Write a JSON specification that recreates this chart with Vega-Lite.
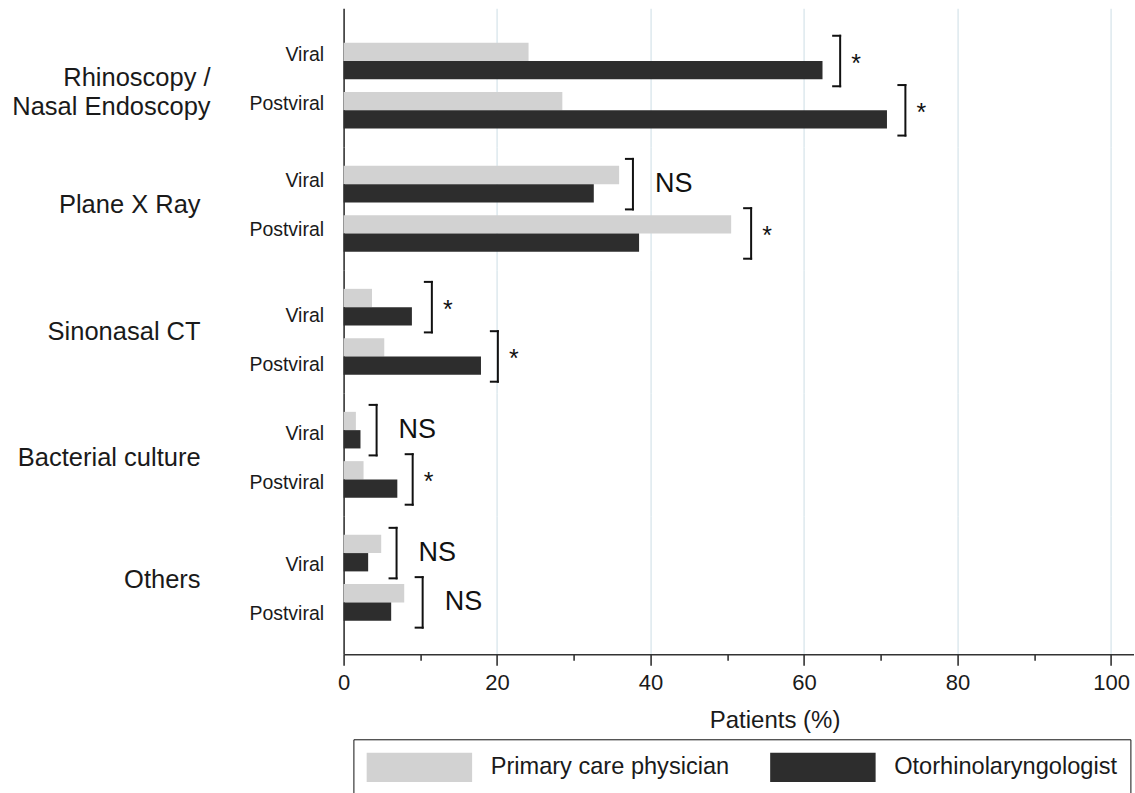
{
  "$schema": "https://vega.github.io/schema/vega-lite/v6.json",
  "background": "white",
  "padding": {"left": 11.6, "top": 8.3, "right": 0, "bottom": 0},
  "autosize": {"type": "pad"},
  "spacing": 0,
  "bounds": "flush",
  "config": {
    "view": {"stroke": null},
    "font": "Liberation Sans",
    "axis": {"labelLimit": 400, "titleLimit": 1000}
  },
  "resolve": {"scale": {"x": "independent", "y": "independent", "yOffset": "independent", "color": "shared"}},
  "datasets": {
    "bars": [
      {"group": "Rhinoscopy", "sub": "Viral", "role": "Primary care physician", "pct": 24.1},
      {"group": "Rhinoscopy", "sub": "Viral", "role": "Otorhinolaryngologist", "pct": 62.4},
      {"group": "Rhinoscopy", "sub": "Postviral", "role": "Primary care physician", "pct": 28.5},
      {"group": "Rhinoscopy", "sub": "Postviral", "role": "Otorhinolaryngologist", "pct": 70.8},
      {"group": "Plane X Ray", "sub": "Viral", "role": "Primary care physician", "pct": 35.9},
      {"group": "Plane X Ray", "sub": "Viral", "role": "Otorhinolaryngologist", "pct": 32.6},
      {"group": "Plane X Ray", "sub": "Postviral", "role": "Primary care physician", "pct": 50.5},
      {"group": "Plane X Ray", "sub": "Postviral", "role": "Otorhinolaryngologist", "pct": 38.5},
      {"group": "Sinonasal CT", "sub": "Viral", "role": "Primary care physician", "pct": 3.7},
      {"group": "Sinonasal CT", "sub": "Viral", "role": "Otorhinolaryngologist", "pct": 8.9},
      {"group": "Sinonasal CT", "sub": "Postviral", "role": "Primary care physician", "pct": 5.3},
      {"group": "Sinonasal CT", "sub": "Postviral", "role": "Otorhinolaryngologist", "pct": 17.9},
      {"group": "Bacterial culture", "sub": "Viral", "role": "Primary care physician", "pct": 1.6},
      {"group": "Bacterial culture", "sub": "Viral", "role": "Otorhinolaryngologist", "pct": 2.2},
      {"group": "Bacterial culture", "sub": "Postviral", "role": "Primary care physician", "pct": 2.6},
      {"group": "Bacterial culture", "sub": "Postviral", "role": "Otorhinolaryngologist", "pct": 7.0},
      {"group": "Others", "sub": "Viral", "role": "Primary care physician", "pct": 4.9},
      {"group": "Others", "sub": "Viral", "role": "Otorhinolaryngologist", "pct": 3.2},
      {"group": "Others", "sub": "Postviral", "role": "Primary care physician", "pct": 7.9},
      {"group": "Others", "sub": "Postviral", "role": "Otorhinolaryngologist", "pct": 6.2}
    ],
    "brackets": [
      {"group": "Rhinoscopy", "sub": "Viral", "bx": 64.7, "label": "*"},
      {"group": "Rhinoscopy", "sub": "Postviral", "bx": 73.2, "label": "*"},
      {"group": "Plane X Ray", "sub": "Viral", "bx": 37.7, "label": "NS"},
      {"group": "Plane X Ray", "sub": "Postviral", "bx": 53.1, "label": "*"},
      {"group": "Sinonasal CT", "sub": "Viral", "bx": 11.5, "label": "*"},
      {"group": "Sinonasal CT", "sub": "Postviral", "bx": 20.1, "label": "*"},
      {"group": "Bacterial culture", "sub": "Viral", "bx": 4.3, "label": "NS"},
      {"group": "Bacterial culture", "sub": "Postviral", "bx": 9.0, "label": "*"},
      {"group": "Others", "sub": "Viral", "bx": 6.9, "label": "NS"},
      {"group": "Others", "sub": "Postviral", "bx": 10.3, "label": "NS"}
    ]
  },
  "vconcat": [
    {
      "width": 790.5, "height": 139,
      "layer": [
        {"data": {"name": "bars"}, "transform": [{"filter": "datum.group === 'Rhinoscopy'"}],
         "mark": {"type": "bar"},
         "encoding": {
           "y": {"field": "sub", "type": "nominal", "sort": ["Viral", "Postviral"], "title": ["Rhinoscopy /", "Nasal Endoscopy"],
                 "scale": {"paddingInner": 0.2576, "paddingOuter": 0.5385, "align": 0.648},
                 "axis": {"title": ["Rhinoscopy /", "Nasal Endoscopy"], "titleAngle": 0, "titleAlign": "right", "titleBaseline": "middle", "titleX": -133.5, "titleY": 68.7, "titleFontSize": 25.5, "titleFontWeight": "normal", "titleColor": "#1a1a1a", "titleLineHeight": 29.3, "ticks": false, "domainColor": "#333333", "domainWidth": 1.6, "labelFontSize": 19.5, "labelColor": "#1a1a1a", "labelPadding": 20, "labelOffset": -6.5, "grid": false}},
           "yOffset": {"field": "role", "type": "nominal", "sort": ["Primary care physician", "Otorhinolaryngologist"], "scale": {"paddingInner": 0, "paddingOuter": 0}},
           "x": {"field": "pct", "type": "quantitative", "title": null, "scale": {"domain": [0, 103], "nice": false},
                 "axis": {"values": [20, 40, 60, 80, 100], "grid": true, "gridColor": "#dde9ee", "gridWidth": 1.5, "labels": false, "ticks": false, "domain": false, "title": null}},
           "color": {"field": "role", "type": "nominal", "scale": {"domain": ["Primary care physician", "Otorhinolaryngologist"], "range": ["#d2d2d2", "#2d2d2d"]},
                     "legend": {"orient": "none", "legendX": 9.8, "legendY": 731, "direction": "horizontal", "title": null, "symbolType": "M-3.6,-1H3.6V1H-3.6Z", "symbolSize": 858, "symbolStrokeWidth": 0, "symbolOpacity": 1, "symbolOffset": 38, "labelFontSize": 23.6, "labelColor": "#1a1a1a", "labelOffset": 56.3, "labelLimit": 500, "columnPadding": 40.5, "padding": 13, "strokeColor": "#111111"}}
         }},
        {"data": {"name": "brackets"}, "transform": [{"filter": "datum.group === 'Rhinoscopy'"}],
         "mark": {"type": "rule", "strokeWidth": 2, "color": "#111111", "strokeCap": "square"},
         "encoding": {"x": {"field": "bx", "type": "quantitative", "title": null}, "y": {"field": "sub", "type": "nominal", "sort": ["Viral", "Postviral"], "title": ["Rhinoscopy /", "Nasal Endoscopy"], "bandPosition": -0.19}, "y2": {"field": "sub", "bandPosition": 1.19}}},
        {"data": {"name": "brackets"}, "transform": [{"filter": "datum.group === 'Rhinoscopy'"}],
         "mark": {"type": "rule", "strokeWidth": 2, "color": "#111111", "strokeCap": "square", "x2Offset": -7},
         "encoding": {"x": {"field": "bx", "type": "quantitative", "title": null}, "x2": {"field": "bx"}, "y": {"field": "sub", "type": "nominal", "sort": ["Viral", "Postviral"], "title": ["Rhinoscopy /", "Nasal Endoscopy"], "bandPosition": -0.19}}},
        {"data": {"name": "brackets"}, "transform": [{"filter": "datum.group === 'Rhinoscopy'"}],
         "mark": {"type": "rule", "strokeWidth": 2, "color": "#111111", "strokeCap": "square", "x2Offset": -7},
         "encoding": {"x": {"field": "bx", "type": "quantitative", "title": null}, "x2": {"field": "bx"}, "y": {"field": "sub", "type": "nominal", "sort": ["Viral", "Postviral"], "title": ["Rhinoscopy /", "Nasal Endoscopy"], "bandPosition": 1.19}}},
        {"data": {"name": "brackets"}, "transform": [{"filter": "datum.group === 'Rhinoscopy' && datum.label === '*'"}],
         "mark": {"type": "text", "align": "center", "baseline": "middle", "dx": 16, "dy": 3, "fontSize": 25, "color": "#111111"},
         "encoding": {"x": {"field": "bx", "type": "quantitative", "title": null}, "y": {"field": "sub", "type": "nominal", "sort": ["Viral", "Postviral"], "title": ["Rhinoscopy /", "Nasal Endoscopy"], "bandPosition": 0.5}, "text": {"field": "label"}}},
        {"data": {"name": "brackets"}, "transform": [{"filter": "datum.group === 'Rhinoscopy' && datum.label === 'NS'"}],
         "mark": {"type": "text", "align": "left", "baseline": "middle", "dx": 22, "fontSize": 27, "color": "#111111"},
         "encoding": {"x": {"field": "bx", "type": "quantitative", "title": null}, "y": {"field": "sub", "type": "nominal", "sort": ["Viral", "Postviral"], "title": ["Rhinoscopy /", "Nasal Endoscopy"], "bandPosition": 0.5}, "text": {"field": "label"}}}
      ]
    },
    {
      "width": 790.5, "height": 123,
      "layer": [
        {"data": {"name": "bars"}, "transform": [{"filter": "datum.group === 'Plane X Ray'"}],
         "mark": {"type": "bar"},
         "encoding": {
           "y": {"field": "sub", "type": "nominal", "sort": ["Viral", "Postviral"], "title": "Plane X Ray",
                 "scale": {"paddingInner": 0.2576, "paddingOuter": 0.3763, "align": 0.5},
                 "axis": {"title": "Plane X Ray", "titleAngle": 0, "titleAlign": "right", "titleBaseline": "middle", "titleX": -143.5, "titleY": 57.7, "titleFontSize": 25.5, "titleFontWeight": "normal", "titleColor": "#1a1a1a", "ticks": false, "domainColor": "#333333", "domainWidth": 1.6, "labelFontSize": 19.5, "labelColor": "#1a1a1a", "labelPadding": 20, "labelOffset": -3, "grid": false}},
           "yOffset": {"field": "role", "type": "nominal", "sort": ["Primary care physician", "Otorhinolaryngologist"], "scale": {"paddingInner": 0, "paddingOuter": 0}},
           "x": {"field": "pct", "type": "quantitative", "title": null, "scale": {"domain": [0, 103], "nice": false},
                 "axis": {"values": [20, 40, 60, 80, 100], "grid": true, "gridColor": "#dde9ee", "gridWidth": 1.5, "labels": false, "ticks": false, "domain": false, "title": null}},
           "color": {"field": "role", "type": "nominal", "scale": {"domain": ["Primary care physician", "Otorhinolaryngologist"], "range": ["#d2d2d2", "#2d2d2d"]},
                     "legend": {"orient": "none", "legendX": 9.8, "legendY": 731, "direction": "horizontal", "title": null, "symbolType": "M-3.6,-1H3.6V1H-3.6Z", "symbolSize": 858, "symbolStrokeWidth": 0, "symbolOpacity": 1, "symbolOffset": 38, "labelFontSize": 23.6, "labelColor": "#1a1a1a", "labelOffset": 56.3, "labelLimit": 500, "columnPadding": 40.5, "padding": 13, "strokeColor": "#111111"}}
         }},
        {"data": {"name": "brackets"}, "transform": [{"filter": "datum.group === 'Plane X Ray'"}],
         "mark": {"type": "rule", "strokeWidth": 2, "color": "#111111", "strokeCap": "square"},
         "encoding": {"x": {"field": "bx", "type": "quantitative", "title": null}, "y": {"field": "sub", "type": "nominal", "sort": ["Viral", "Postviral"], "title": "Plane X Ray", "bandPosition": -0.19}, "y2": {"field": "sub", "bandPosition": 1.19}}},
        {"data": {"name": "brackets"}, "transform": [{"filter": "datum.group === 'Plane X Ray'"}],
         "mark": {"type": "rule", "strokeWidth": 2, "color": "#111111", "strokeCap": "square", "x2Offset": -7},
         "encoding": {"x": {"field": "bx", "type": "quantitative", "title": null}, "x2": {"field": "bx"}, "y": {"field": "sub", "type": "nominal", "sort": ["Viral", "Postviral"], "title": "Plane X Ray", "bandPosition": -0.19}}},
        {"data": {"name": "brackets"}, "transform": [{"filter": "datum.group === 'Plane X Ray'"}],
         "mark": {"type": "rule", "strokeWidth": 2, "color": "#111111", "strokeCap": "square", "x2Offset": -7},
         "encoding": {"x": {"field": "bx", "type": "quantitative", "title": null}, "x2": {"field": "bx"}, "y": {"field": "sub", "type": "nominal", "sort": ["Viral", "Postviral"], "title": "Plane X Ray", "bandPosition": 1.19}}},
        {"data": {"name": "brackets"}, "transform": [{"filter": "datum.group === 'Plane X Ray' && datum.label === '*'"}],
         "mark": {"type": "text", "align": "center", "baseline": "middle", "dx": 16, "dy": 3, "fontSize": 25, "color": "#111111"},
         "encoding": {"x": {"field": "bx", "type": "quantitative", "title": null}, "y": {"field": "sub", "type": "nominal", "sort": ["Viral", "Postviral"], "title": "Plane X Ray", "bandPosition": 0.5}, "text": {"field": "label"}}},
        {"data": {"name": "brackets"}, "transform": [{"filter": "datum.group === 'Plane X Ray' && datum.label === 'NS'"}],
         "mark": {"type": "text", "align": "left", "baseline": "middle", "dx": 22, "fontSize": 27, "color": "#111111"},
         "encoding": {"x": {"field": "bx", "type": "quantitative", "title": null}, "y": {"field": "sub", "type": "nominal", "sort": ["Viral", "Postviral"], "title": "Plane X Ray", "bandPosition": 0.5}, "text": {"field": "label"}}}
      ]
    },
    {
      "width": 790.5, "height": 123,
      "layer": [
        {"data": {"name": "bars"}, "transform": [{"filter": "datum.group === 'Sinonasal CT'"}],
         "mark": {"type": "bar"},
         "encoding": {
           "y": {"field": "sub", "type": "nominal", "sort": ["Viral", "Postviral"], "title": "Sinonasal CT",
                 "scale": {"paddingInner": 0.2576, "paddingOuter": 0.3763, "align": 0.5},
                 "axis": {"title": "Sinonasal CT", "titleAngle": 0, "titleAlign": "right", "titleBaseline": "middle", "titleX": -143.5, "titleY": 61.7, "titleFontSize": 25.5, "titleFontWeight": "normal", "titleColor": "#1a1a1a", "ticks": false, "domainColor": "#333333", "domainWidth": 1.6, "labelFontSize": 19.5, "labelColor": "#1a1a1a", "labelPadding": 20, "labelOffset": 8.5, "grid": false}},
           "yOffset": {"field": "role", "type": "nominal", "sort": ["Primary care physician", "Otorhinolaryngologist"], "scale": {"paddingInner": 0, "paddingOuter": 0}},
           "x": {"field": "pct", "type": "quantitative", "title": null, "scale": {"domain": [0, 103], "nice": false},
                 "axis": {"values": [20, 40, 60, 80, 100], "grid": true, "gridColor": "#dde9ee", "gridWidth": 1.5, "labels": false, "ticks": false, "domain": false, "title": null}},
           "color": {"field": "role", "type": "nominal", "scale": {"domain": ["Primary care physician", "Otorhinolaryngologist"], "range": ["#d2d2d2", "#2d2d2d"]},
                     "legend": {"orient": "none", "legendX": 9.8, "legendY": 731, "direction": "horizontal", "title": null, "symbolType": "M-3.6,-1H3.6V1H-3.6Z", "symbolSize": 858, "symbolStrokeWidth": 0, "symbolOpacity": 1, "symbolOffset": 38, "labelFontSize": 23.6, "labelColor": "#1a1a1a", "labelOffset": 56.3, "labelLimit": 500, "columnPadding": 40.5, "padding": 13, "strokeColor": "#111111"}}
         }},
        {"data": {"name": "brackets"}, "transform": [{"filter": "datum.group === 'Sinonasal CT'"}],
         "mark": {"type": "rule", "strokeWidth": 2, "color": "#111111", "strokeCap": "square"},
         "encoding": {"x": {"field": "bx", "type": "quantitative", "title": null}, "y": {"field": "sub", "type": "nominal", "sort": ["Viral", "Postviral"], "title": "Sinonasal CT", "bandPosition": -0.19}, "y2": {"field": "sub", "bandPosition": 1.19}}},
        {"data": {"name": "brackets"}, "transform": [{"filter": "datum.group === 'Sinonasal CT'"}],
         "mark": {"type": "rule", "strokeWidth": 2, "color": "#111111", "strokeCap": "square", "x2Offset": -7},
         "encoding": {"x": {"field": "bx", "type": "quantitative", "title": null}, "x2": {"field": "bx"}, "y": {"field": "sub", "type": "nominal", "sort": ["Viral", "Postviral"], "title": "Sinonasal CT", "bandPosition": -0.19}}},
        {"data": {"name": "brackets"}, "transform": [{"filter": "datum.group === 'Sinonasal CT'"}],
         "mark": {"type": "rule", "strokeWidth": 2, "color": "#111111", "strokeCap": "square", "x2Offset": -7},
         "encoding": {"x": {"field": "bx", "type": "quantitative", "title": null}, "x2": {"field": "bx"}, "y": {"field": "sub", "type": "nominal", "sort": ["Viral", "Postviral"], "title": "Sinonasal CT", "bandPosition": 1.19}}},
        {"data": {"name": "brackets"}, "transform": [{"filter": "datum.group === 'Sinonasal CT' && datum.label === '*'"}],
         "mark": {"type": "text", "align": "center", "baseline": "middle", "dx": 16, "dy": 3, "fontSize": 25, "color": "#111111"},
         "encoding": {"x": {"field": "bx", "type": "quantitative", "title": null}, "y": {"field": "sub", "type": "nominal", "sort": ["Viral", "Postviral"], "title": "Sinonasal CT", "bandPosition": 0.5}, "text": {"field": "label"}}},
        {"data": {"name": "brackets"}, "transform": [{"filter": "datum.group === 'Sinonasal CT' && datum.label === 'NS'"}],
         "mark": {"type": "text", "align": "left", "baseline": "middle", "dx": 22, "fontSize": 27, "color": "#111111"},
         "encoding": {"x": {"field": "bx", "type": "quantitative", "title": null}, "y": {"field": "sub", "type": "nominal", "sort": ["Viral", "Postviral"], "title": "Sinonasal CT", "bandPosition": 0.5}, "text": {"field": "label"}}}
      ]
    },
    {
      "width": 790.5, "height": 123,
      "layer": [
        {"data": {"name": "bars"}, "transform": [{"filter": "datum.group === 'Bacterial culture'"}],
         "mark": {"type": "bar"},
         "encoding": {
           "y": {"field": "sub", "type": "nominal", "sort": ["Viral", "Postviral"], "title": "Bacterial culture",
                 "scale": {"paddingInner": 0.2576, "paddingOuter": 0.3763, "align": 0.5},
                 "axis": {"title": "Bacterial culture", "titleAngle": 0, "titleAlign": "right", "titleBaseline": "middle", "titleX": -143.5, "titleY": 64.2, "titleFontSize": 25.5, "titleFontWeight": "normal", "titleColor": "#1a1a1a", "ticks": false, "domainColor": "#333333", "domainWidth": 1.6, "labelFontSize": 19.5, "labelColor": "#1a1a1a", "labelPadding": 20, "labelOffset": 4, "grid": false}},
           "yOffset": {"field": "role", "type": "nominal", "sort": ["Primary care physician", "Otorhinolaryngologist"], "scale": {"paddingInner": 0, "paddingOuter": 0}},
           "x": {"field": "pct", "type": "quantitative", "title": null, "scale": {"domain": [0, 103], "nice": false},
                 "axis": {"values": [20, 40, 60, 80, 100], "grid": true, "gridColor": "#dde9ee", "gridWidth": 1.5, "labels": false, "ticks": false, "domain": false, "title": null}},
           "color": {"field": "role", "type": "nominal", "scale": {"domain": ["Primary care physician", "Otorhinolaryngologist"], "range": ["#d2d2d2", "#2d2d2d"]},
                     "legend": {"orient": "none", "legendX": 9.8, "legendY": 731, "direction": "horizontal", "title": null, "symbolType": "M-3.6,-1H3.6V1H-3.6Z", "symbolSize": 858, "symbolStrokeWidth": 0, "symbolOpacity": 1, "symbolOffset": 38, "labelFontSize": 23.6, "labelColor": "#1a1a1a", "labelOffset": 56.3, "labelLimit": 500, "columnPadding": 40.5, "padding": 13, "strokeColor": "#111111"}}
         }},
        {"data": {"name": "brackets"}, "transform": [{"filter": "datum.group === 'Bacterial culture'"}],
         "mark": {"type": "rule", "strokeWidth": 2, "color": "#111111", "strokeCap": "square"},
         "encoding": {"x": {"field": "bx", "type": "quantitative", "title": null}, "y": {"field": "sub", "type": "nominal", "sort": ["Viral", "Postviral"], "title": "Bacterial culture", "bandPosition": -0.19}, "y2": {"field": "sub", "bandPosition": 1.19}}},
        {"data": {"name": "brackets"}, "transform": [{"filter": "datum.group === 'Bacterial culture'"}],
         "mark": {"type": "rule", "strokeWidth": 2, "color": "#111111", "strokeCap": "square", "x2Offset": -7},
         "encoding": {"x": {"field": "bx", "type": "quantitative", "title": null}, "x2": {"field": "bx"}, "y": {"field": "sub", "type": "nominal", "sort": ["Viral", "Postviral"], "title": "Bacterial culture", "bandPosition": -0.19}}},
        {"data": {"name": "brackets"}, "transform": [{"filter": "datum.group === 'Bacterial culture'"}],
         "mark": {"type": "rule", "strokeWidth": 2, "color": "#111111", "strokeCap": "square", "x2Offset": -7},
         "encoding": {"x": {"field": "bx", "type": "quantitative", "title": null}, "x2": {"field": "bx"}, "y": {"field": "sub", "type": "nominal", "sort": ["Viral", "Postviral"], "title": "Bacterial culture", "bandPosition": 1.19}}},
        {"data": {"name": "brackets"}, "transform": [{"filter": "datum.group === 'Bacterial culture' && datum.label === '*'"}],
         "mark": {"type": "text", "align": "center", "baseline": "middle", "dx": 16, "dy": 3, "fontSize": 25, "color": "#111111"},
         "encoding": {"x": {"field": "bx", "type": "quantitative", "title": null}, "y": {"field": "sub", "type": "nominal", "sort": ["Viral", "Postviral"], "title": "Bacterial culture", "bandPosition": 0.5}, "text": {"field": "label"}}},
        {"data": {"name": "brackets"}, "transform": [{"filter": "datum.group === 'Bacterial culture' && datum.label === 'NS'"}],
         "mark": {"type": "text", "align": "left", "baseline": "middle", "dx": 22, "fontSize": 27, "color": "#111111"},
         "encoding": {"x": {"field": "bx", "type": "quantitative", "title": null}, "y": {"field": "sub", "type": "nominal", "sort": ["Viral", "Postviral"], "title": "Bacterial culture", "bandPosition": 0.5}, "text": {"field": "label"}}}
      ]
    },
    {
      "width": 790.5, "height": 138,
      "layer": [
        {"data": {"name": "bars"}, "transform": [{"filter": "datum.group === 'Others'"}],
         "mark": {"type": "bar"},
         "encoding": {
           "y": {"field": "sub", "type": "nominal", "sort": ["Viral", "Postviral"], "title": "Others",
                 "scale": {"paddingInner": 0.2576, "paddingOuter": 0.5284, "align": 0.355},
                 "axis": {"title": "Others", "titleAngle": 0, "titleAlign": "right", "titleBaseline": "middle", "titleX": -143.5, "titleY": 63.7, "titleFontSize": 25.5, "titleFontWeight": "normal", "titleColor": "#1a1a1a", "ticks": false, "domainColor": "#333333", "domainWidth": 1.6, "labelFontSize": 19.5, "labelColor": "#1a1a1a", "labelPadding": 20, "labelOffset": 12, "grid": false}},
           "yOffset": {"field": "role", "type": "nominal", "sort": ["Primary care physician", "Otorhinolaryngologist"], "scale": {"paddingInner": 0, "paddingOuter": 0}},
           "x": {"field": "pct", "type": "quantitative", "title": "Patients (%)", "scale": {"domain": [0, 103], "nice": false},
                 "axis": {"values": [0, 10, 20, 30, 40, 50, 60, 70, 80, 90, 100], "grid": true, "gridColor": "#dde9ee", "gridWidth": 1.5,
                          "gridOpacity": {"condition": {"test": "datum.value % 20 === 0 && datum.value > 0", "value": 1}, "value": 0},
                          "tickSize": {"condition": {"test": "datum.value % 20 === 0", "value": 11}, "value": 6}, "tickColor": "#333333", "tickWidth": 1.6,
                          "domainColor": "#333333", "domainWidth": 1.6,
                          "labelExpr": "datum.value % 20 === 0 ? datum.label : ''", "labelFontSize": 22, "labelColor": "#1a1a1a", "labelPadding": 7, "labelFlush": false, "labelOverlap": false,
                          "title": "Patients (%)", "titleFontSize": 24, "titleFontWeight": "normal", "titleColor": "#1a1a1a", "titleX": 431, "titleY": 54, "titleBaseline": "top", "titleAlign": "center"}},
           "color": {"field": "role", "type": "nominal", "scale": {"domain": ["Primary care physician", "Otorhinolaryngologist"], "range": ["#d2d2d2", "#2d2d2d"]},
                     "legend": {"orient": "none", "legendX": 9.8, "legendY": 731, "direction": "horizontal", "title": null, "symbolType": "M-3.6,-1H3.6V1H-3.6Z", "symbolSize": 858, "symbolStrokeWidth": 0, "symbolOpacity": 1, "symbolOffset": 38, "labelFontSize": 23.6, "labelColor": "#1a1a1a", "labelOffset": 56.3, "labelLimit": 500, "columnPadding": 40.5, "padding": 13, "strokeColor": "#111111"}}
         }},
        {"data": {"name": "brackets"}, "transform": [{"filter": "datum.group === 'Others'"}],
         "mark": {"type": "rule", "strokeWidth": 2, "color": "#111111", "strokeCap": "square"},
         "encoding": {"x": {"field": "bx", "type": "quantitative", "title": "Patients (%)"}, "y": {"field": "sub", "type": "nominal", "sort": ["Viral", "Postviral"], "title": "Others", "bandPosition": -0.19}, "y2": {"field": "sub", "bandPosition": 1.19}}},
        {"data": {"name": "brackets"}, "transform": [{"filter": "datum.group === 'Others'"}],
         "mark": {"type": "rule", "strokeWidth": 2, "color": "#111111", "strokeCap": "square", "x2Offset": -7},
         "encoding": {"x": {"field": "bx", "type": "quantitative", "title": "Patients (%)"}, "x2": {"field": "bx"}, "y": {"field": "sub", "type": "nominal", "sort": ["Viral", "Postviral"], "title": "Others", "bandPosition": -0.19}}},
        {"data": {"name": "brackets"}, "transform": [{"filter": "datum.group === 'Others'"}],
         "mark": {"type": "rule", "strokeWidth": 2, "color": "#111111", "strokeCap": "square", "x2Offset": -7},
         "encoding": {"x": {"field": "bx", "type": "quantitative", "title": "Patients (%)"}, "x2": {"field": "bx"}, "y": {"field": "sub", "type": "nominal", "sort": ["Viral", "Postviral"], "title": "Others", "bandPosition": 1.19}}},
        {"data": {"name": "brackets"}, "transform": [{"filter": "datum.group === 'Others' && datum.label === '*'"}],
         "mark": {"type": "text", "align": "center", "baseline": "middle", "dx": 16, "dy": 3, "fontSize": 25, "color": "#111111"},
         "encoding": {"x": {"field": "bx", "type": "quantitative", "title": "Patients (%)"}, "y": {"field": "sub", "type": "nominal", "sort": ["Viral", "Postviral"], "title": "Others", "bandPosition": 0.5}, "text": {"field": "label"}}},
        {"data": {"name": "brackets"}, "transform": [{"filter": "datum.group === 'Others' && datum.label === 'NS'"}],
         "mark": {"type": "text", "align": "left", "baseline": "middle", "dx": 22, "fontSize": 27, "color": "#111111"},
         "encoding": {"x": {"field": "bx", "type": "quantitative", "title": "Patients (%)"}, "y": {"field": "sub", "type": "nominal", "sort": ["Viral", "Postviral"], "title": "Others", "bandPosition": 0.5}, "text": {"field": "label"}}}
      ]
    }
  ]
}
